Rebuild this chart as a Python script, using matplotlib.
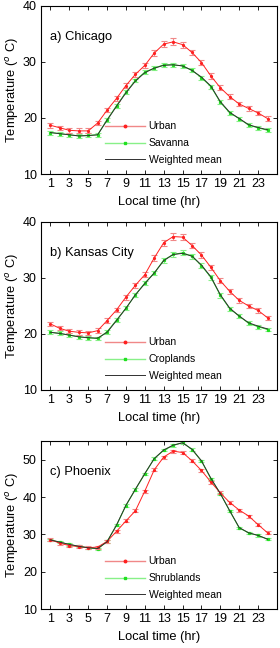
import numpy as np
import matplotlib
matplotlib.use("Agg")
import matplotlib.pyplot as plt
from matplotlib.lines import Line2D

plt.rcParams['font.family'] = ['Liberation Sans', 'DejaVu Sans']

hours = np.arange(1, 25)

# a) Chicago
chi_urban = [18.7, 18.25, 17.8, 17.7, 17.7, 19.1, 21.4, 23.5, 25.8, 27.8, 29.4, 31.6,
             33.2, 33.6, 33.1, 31.7, 29.9, 27.5, 25.4, 23.8, 22.5, 21.7, 20.9, 19.9]
chi_urban_err = [0.4, 0.35, 0.4, 0.45, 0.45, 0.4, 0.4, 0.4, 0.45, 0.45, 0.45, 0.5,
                 0.55, 0.6, 0.55, 0.5, 0.5, 0.45, 0.45, 0.4, 0.4, 0.4, 0.4, 0.4]
chi_veg = [17.4, 17.2, 17.0, 16.8, 16.9, 17.0, 19.7, 22.2, 24.6, 26.7, 28.2, 28.9,
           29.5, 29.5, 29.3, 28.5, 27.2, 25.6, 22.8, 20.9, 19.9, 18.7, 18.25, 17.8]
chi_veg_err = [0.35] * 24
chi_wmean = [17.4, 17.2, 17.0, 16.8, 16.85, 17.0, 19.6, 22.1, 24.5, 26.6, 28.1, 28.9,
             29.4, 29.5, 29.3, 28.5, 27.3, 25.7, 22.9, 21.0, 19.9, 18.8, 18.3, 17.9]

# b) Kansas City
kc_urban = [21.8, 21.0, 20.5, 20.3, 20.2, 20.6, 22.4, 24.3, 26.6, 28.7, 30.6, 33.6,
            36.3, 37.4, 37.3, 35.8, 34.1, 31.9, 29.5, 27.6, 26.0, 25.0, 24.2, 22.9]
kc_urban_err = [0.4, 0.35, 0.4, 0.4, 0.4, 0.4, 0.4, 0.4, 0.45, 0.45, 0.45, 0.5,
                0.5, 0.55, 0.55, 0.5, 0.5, 0.45, 0.45, 0.4, 0.4, 0.4, 0.4, 0.4]
kc_veg = [20.3, 20.1, 19.8, 19.5, 19.3, 19.2, 20.4, 22.5, 24.6, 27.0, 29.1, 30.9,
          33.2, 34.2, 34.5, 33.9, 32.2, 30.1, 26.9, 24.5, 23.2, 21.9, 21.3, 20.8]
kc_veg_err = [0.35, 0.35, 0.35, 0.35, 0.35, 0.35, 0.35, 0.35, 0.4, 0.4, 0.4, 0.4,
              0.45, 0.45, 0.45, 0.45, 0.4, 0.4, 0.4, 0.35, 0.35, 0.35, 0.35, 0.35]
kc_wmean = [20.3, 20.1, 19.8, 19.5, 19.35, 19.25, 20.3, 22.4, 24.6, 27.0, 29.0, 30.9,
            33.1, 34.2, 34.4, 33.9, 32.3, 30.2, 27.0, 24.6, 23.2, 22.0, 21.4, 20.9]

# c) Phoenix
phx_urban = [28.6, 27.6, 27.0, 26.7, 26.4, 26.6, 28.1, 30.8, 33.6, 36.3, 41.6, 47.3,
             50.7, 52.3, 51.9, 49.7, 47.1, 44.0, 41.1, 38.5, 36.5, 34.9, 32.6, 30.4]
phx_urban_err = [0.4] * 24
phx_veg = [28.5, 27.9, 27.3, 26.8, 26.4, 26.1, 28.1, 32.4, 37.7, 42.0, 46.2, 50.3,
           52.5, 53.8, 54.6, 52.7, 49.6, 44.9, 40.9, 36.2, 31.7, 30.4, 29.7, 28.7]
phx_veg_err = [0.3] * 24
phx_wmean = [28.5, 27.9, 27.3, 26.8, 26.4, 26.2, 28.0, 32.5, 37.8, 42.1, 46.3, 50.3,
             52.6, 53.9, 54.5, 52.8, 49.7, 45.0, 40.9, 36.3, 31.8, 30.4, 29.7, 28.7]

panels = [
    ("a) Chicago", "Savanna", chi_urban, chi_urban_err, chi_veg, chi_veg_err, chi_wmean, 40, [10, 20, 30, 40]),
    ("b) Kansas City", "Croplands", kc_urban, kc_urban_err, kc_veg, kc_veg_err, kc_wmean, 40, [10, 20, 30, 40]),
    ("c) Phoenix", "Shrublands", phx_urban, phx_urban_err, phx_veg, phx_veg_err, phx_wmean, 55, [10, 20, 30, 40, 50]),
]

fig = plt.figure(figsize=(2.8, 6.48), dpi=100)
tops = [6, 222, 441]  # pixel tops of each panel
W, H = 280.0, 648.0

red = '#ff2020'
pink = '#f08888'
green = '#20e020'
lgreen = '#88f088'

for (title, vlabel, urb, urb_e, veg, veg_e, wm, ytop, yt), top in zip(panels, tops):
    ax = fig.add_axes([41 / W, 1 - (top + 168) / H, 236 / W, 168 / H])
    ax.errorbar(hours, urb, yerr=urb_e, color=red, ecolor=pink, lw=0.7,
                marker='o', ms=1.3, capsize=2, elinewidth=0.8, capthick=0.8, zorder=3)
    ax.errorbar(hours, veg, yerr=veg_e, color=green, ecolor=lgreen, lw=0.7,
                marker='s', ms=1.3, capsize=2, elinewidth=0.8, capthick=0.8, zorder=2)
    ax.plot(hours, wm, color='#303030', lw=0.7, zorder=4)

    ax.set_xlim(0, 25)
    ax.set_ylim(10, ytop)
    ax.set_xticks(np.arange(1, 25, 2))
    ax.set_yticks(yt)
    ax.tick_params(direction='in', top=True, right=True, length=3, width=0.6,
                   labelsize=9, pad=3)
    for s in ax.spines.values():
        s.set_linewidth(0.8)
    ax.set_xlabel('Local time (hr)', fontsize=9.3, labelpad=4)
    ax.set_ylabel('Temperature ($^{o}$ C)', fontsize=9.3, labelpad=1)
    ax.text(0.04, 0.8, title, transform=ax.transAxes, fontsize=9.3)

    handles = [
        Line2D([], [], color=pink, lw=1.0, marker='o', ms=1.8, mfc=red, mec=red),
        Line2D([], [], color=lgreen, lw=1.0, marker='s', ms=1.8, mfc=green, mec=green),
        Line2D([], [], color='#303030', lw=0.7),
    ]
    ax.legend(handles, ['Urban', vlabel, 'Weighted mean'], loc='lower left',
              bbox_to_anchor=(0.24, 0.01), frameon=False, fontsize=7.5,
              handlelength=3.8, handletextpad=0.4, numpoints=1,
              labelspacing=0.65, borderpad=0.2)

fig.savefig('out.png', dpi=100)
